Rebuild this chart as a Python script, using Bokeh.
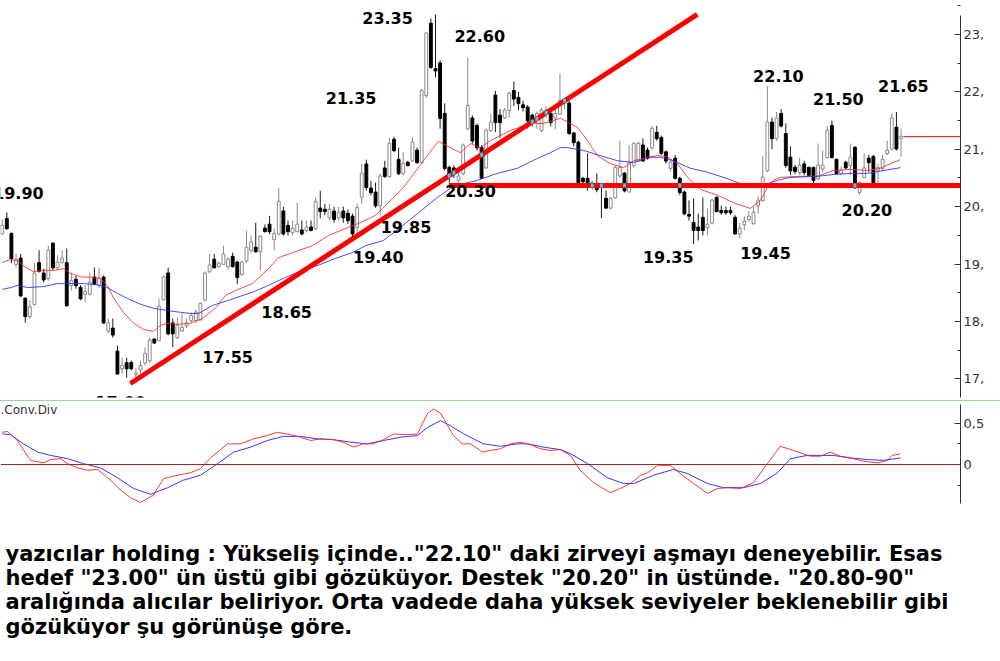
from bokeh.plotting import figure
from bokeh.models import (Range1d, FixedTicker, PrintfTickFormatter, CustomJSTickFormatter,
                          Span, Div, ColumnDataSource)
from bokeh.layouts import column
from bokeh.embed import file_html
from bokeh.resources import INLINE
from bokeh.core.properties import value

# ---- daily candles (TL) ----
opens = [19.53, 19.79, 19.53, 19.00, 19.10, 18.40, 18.09, 18.30, 19.02, 18.84,
         18.75, 19.36, 18.94, 19.03, 19.02, 18.63, 18.73, 18.59, 18.48, 18.48,
         18.77, 18.63, 18.77, 17.84, 17.88, 17.48, 17.18, 17.28, 17.28, 17.08,
         17.16, 17.28, 17.32, 17.69, 17.67, 18.38, 18.84, 17.97, 17.72, 17.84,
         17.93, 18.02, 18.02, 18.03, 18.38, 18.87, 19.08, 18.96, 19.00, 18.96,
         19.13, 19.03, 18.82, 19.06, 19.24, 19.29, 19.22, 19.62, 19.69, 19.43,
         19.53, 19.92, 19.67, 19.55, 19.57, 19.59, 19.59, 19.64, 19.62, 19.97,
         19.95, 19.81, 19.92, 19.81, 19.92, 19.88, 19.83, 19.64, 20.17, 20.74,
         20.32, 20.25, 20.02, 20.67, 20.53, 21.17, 20.82, 20.58, 20.77, 20.80,
         20.98, 20.77, 21.94, 23.19, 22.40, 22.50, 21.62, 20.68, 20.67, 20.46,
         20.58, 21.36, 21.54, 21.41, 21.03, 20.68, 21.33, 21.94, 21.59, 21.55,
         21.68, 22.02, 21.90, 21.77, 21.73, 21.59, 21.54, 21.33, 21.62, 21.62,
         21.55, 21.62, 21.80, 21.80, 21.28, 21.12, 20.49, 20.49, 20.37, 20.40,
         20.38, 20.14, 19.98, 20.16, 20.54, 20.58, 20.26, 20.72, 20.80, 21.07,
         20.98, 21.03, 21.29, 21.20, 20.95, 20.67, 20.84, 20.49, 20.25, 19.86,
         19.72, 19.64, 19.81, 19.64, 19.72, 20.16, 19.93, 19.93, 19.93, 19.81,
         19.53, 19.69, 19.78, 19.71, 20.02, 20.11, 20.63, 21.47, 21.19, 21.62,
         21.27, 20.86, 20.68, 20.60, 20.74, 20.68, 20.68, 20.49, 20.66, 20.86,
         21.41, 20.82, 20.58, 20.77, 20.72, 21.03, 20.25, 20.51, 20.84, 20.87,
         20.64, 20.67, 20.93, 21.01, 21.38, 21.19]
highs = [19.78, 19.90, 19.55, 19.18, 19.18, 18.42, 18.37, 19.02, 19.24, 18.92,
         19.32, 19.38, 19.15, 19.24, 19.27, 18.85, 18.80, 18.63, 18.63, 18.85,
         18.94, 18.94, 18.80, 18.05, 18.05, 17.58, 17.37, 17.37, 17.32, 17.18,
         17.32, 17.55, 17.72, 17.71, 18.40, 18.80, 18.94, 18.05, 18.07, 18.14,
         18.05, 18.16, 18.21, 18.33, 18.87, 19.18, 19.18, 19.05, 19.32, 19.12,
         19.20, 19.06, 19.06, 19.58, 19.50, 19.72, 19.50, 19.69, 19.84, 19.62,
         20.33, 20.00, 19.76, 19.76, 20.07, 19.76, 19.76, 19.76, 20.16, 20.28,
         20.05, 20.05, 20.00, 20.00, 20.00, 19.95, 19.88, 20.05, 20.75, 20.82,
         20.45, 20.42, 20.58, 20.80, 21.20, 21.22, 21.03, 20.95, 20.80, 21.20,
         21.03, 22.05, 23.05, 23.28, 23.35, 22.55, 21.80, 20.72, 20.72, 20.60,
         21.10, 22.60, 21.59, 21.45, 21.07, 21.36, 21.62, 22.02, 21.70, 21.72,
         22.00, 22.18, 22.00, 21.85, 21.77, 21.62, 21.66, 21.72, 21.75, 21.72,
         21.75, 22.32, 21.90, 21.85, 21.30, 21.15, 20.52, 20.93, 20.45, 20.58,
         20.42, 20.28, 20.17, 20.72, 21.15, 20.60, 21.07, 21.12, 21.13, 21.19,
         21.03, 21.41, 21.41, 21.24, 20.98, 20.82, 20.90, 20.52, 20.28, 20.11,
         20.14, 19.88, 20.16, 19.97, 20.14, 20.18, 20.02, 20.00, 20.00, 19.85,
         19.72, 19.83, 19.93, 20.00, 20.18, 20.89, 22.10, 21.55, 21.65, 21.70,
         21.45, 21.05, 20.73, 20.85, 20.80, 20.70, 20.70, 21.10, 20.98, 21.41,
         21.50, 20.84, 20.70, 20.80, 21.10, 21.05, 20.44, 20.93, 20.90, 20.90,
         20.75, 20.90, 21.15, 21.62, 21.65, 21.36]
lows = [19.52, 19.60, 19.02, 18.94, 18.43, 17.98, 18.05, 18.28, 18.85, 18.68,
        18.71, 18.89, 18.89, 19.01, 18.26, 18.54, 18.57, 18.37, 18.33, 18.45,
        18.63, 18.59, 17.96, 17.79, 17.72, 17.08, 17.09, 17.02, 17.15, 17.00,
        17.09, 17.23, 17.28, 17.61, 17.66, 18.37, 17.76, 17.55, 17.70, 17.82,
        17.88, 17.98, 17.97, 18.02, 18.35, 18.85, 18.92, 18.94, 18.99, 18.90,
        18.94, 18.65, 18.80, 19.02, 19.20, 19.20, 18.89, 19.55, 19.52, 19.24,
        19.50, 19.50, 19.50, 19.50, 19.55, 19.50, 19.55, 19.57, 19.59, 19.80,
        19.85, 19.76, 19.72, 19.76, 19.72, 19.70, 19.40, 19.48, 20.05, 20.28,
        20.20, 19.98, 19.85, 20.50, 20.50, 20.95, 20.55, 20.55, 20.70, 20.78,
        20.75, 20.75, 21.90, 22.40, 22.25, 21.36, 20.63, 20.42, 20.50, 20.30,
        20.55, 21.33, 21.10, 20.98, 20.50, 20.66, 21.30, 21.30, 21.20, 21.53,
        21.55, 21.75, 21.68, 21.66, 21.36, 21.40, 21.36, 21.30, 21.55, 21.40,
        21.35, 21.60, 21.70, 21.25, 21.05, 20.40, 20.40, 20.28, 20.30, 20.25,
        19.80, 19.97, 19.95, 20.14, 20.50, 20.25, 20.25, 20.68, 20.78, 20.78,
        20.82, 21.00, 21.15, 20.90, 20.75, 20.62, 20.47, 20.20, 19.85, 19.76,
        19.35, 19.41, 19.50, 19.50, 19.69, 19.90, 19.86, 19.86, 19.86, 19.52,
        19.45, 19.59, 19.74, 19.68, 19.88, 20.09, 20.60, 21.00, 21.15, 21.38,
        20.68, 20.55, 20.57, 20.55, 20.55, 20.53, 20.33, 20.46, 20.60, 20.84,
        20.84, 20.57, 20.56, 20.66, 20.55, 20.33, 20.20, 20.50, 20.60, 20.40,
        20.37, 20.62, 20.90, 20.98, 20.98, 20.87]
closes = [19.67, 19.62, 19.10, 19.08, 18.45, 18.09, 18.25, 18.84, 18.88, 18.73,
          19.24, 18.94, 19.03, 19.10, 18.28, 18.71, 18.63, 18.40, 18.52, 18.68,
          18.66, 18.75, 17.98, 17.97, 17.77, 17.09, 17.23, 17.18, 17.18, 17.10,
          17.23, 17.44, 17.67, 17.63, 18.26, 18.77, 17.79, 17.79, 17.93, 17.89,
          17.97, 18.10, 18.16, 18.31, 18.84, 18.98, 18.94, 19.01, 19.17, 19.08,
          18.96, 18.77, 19.03, 19.29, 19.38, 19.22, 19.48, 19.57, 19.57, 19.53,
          20.09, 19.53, 19.57, 19.62, 19.69, 19.53, 19.64, 19.59, 20.09, 19.92,
          19.92, 19.95, 19.78, 19.90, 19.81, 19.76, 19.53, 19.98, 20.58, 20.34,
          20.25, 20.02, 20.53, 20.53, 21.10, 20.98, 20.58, 20.75, 20.72, 21.12,
          20.77, 22.02, 23.02, 22.43, 22.37, 21.54, 20.67, 20.55, 20.58, 20.53,
          21.07, 21.76, 21.15, 21.03, 20.50, 21.33, 21.47, 21.47, 21.47, 21.68,
          21.97, 21.88, 21.80, 21.73, 21.50, 21.47, 21.62, 21.68, 21.68, 21.47,
          21.62, 21.85, 21.88, 21.28, 21.12, 20.42, 20.44, 20.42, 20.42, 20.30,
          20.35, 19.98, 20.14, 20.68, 20.68, 20.28, 20.77, 21.10, 21.10, 20.80,
          20.85, 21.36, 21.19, 20.93, 20.80, 20.77, 20.50, 20.25, 19.88, 19.84,
          19.59, 19.59, 19.59, 19.69, 20.11, 19.92, 19.90, 19.90, 19.90, 19.53,
          19.62, 19.74, 19.83, 19.90, 20.11, 20.51, 21.47, 21.19, 21.54, 21.41,
          20.72, 20.63, 20.62, 20.72, 20.60, 20.55, 20.46, 20.72, 20.72, 21.33,
          20.86, 20.58, 20.63, 20.68, 20.86, 20.33, 20.42, 20.67, 20.77, 20.42,
          20.68, 20.82, 20.98, 21.54, 21.01, 21.22]

# ---- moving averages (bar index, price) ----
fast_ma_idx = [0, 1.8, 3.3, 5.1, 6.8, 9, 11.1, 13.3, 14.8, 17, 19.2, 21.3, 22.8, 24.1, 26.3,
               28.5, 30.7, 32.8, 34.3, 35.9, 38, 40.8, 43.4, 46.3, 48.4, 50.6, 54.3, 57.8,
               59.9, 63, 67.3, 70.8, 74.5, 77.3, 79.5, 81, 87, 91.4, 94.6, 97.2, 99.4, 101.6,
               103.8, 105.9, 110.3, 114.6, 117.4, 121.1, 122.8, 124.8, 127, 129.1, 131.9,
               134.8, 137, 140, 142.2, 144.3, 146.5, 148.7, 151.5, 155.2, 158.6, 162.3, 164.5,
               166, 167.3, 168.8, 173.2, 176.9, 180.3, 184, 187.7, 190.5, 192.7, 194.9]
fast_ma = [19.03, 19.08, 19.06, 18.94, 18.87, 18.89, 18.89, 18.92, 18.84, 18.78, 18.77, 18.75,
           18.63, 18.42, 18.16, 17.97, 17.86, 17.83, 17.93, 17.97, 17.95, 17.97, 18.05, 18.24,
           18.45, 18.54, 18.66, 18.92, 19.11, 19.20, 19.32, 19.50, 19.62, 19.71, 19.79, 19.85,
           20.33, 20.80, 21.14, 21.03, 20.94, 21.10, 21.03, 21.15, 21.33, 21.45, 21.45, 21.54,
           21.47, 21.38, 21.15, 20.89, 20.75, 20.68, 20.80, 20.86, 20.89, 20.87, 20.75, 20.51,
           20.30, 20.20, 20.07, 19.97, 20.11, 20.33, 20.46, 20.51, 20.53, 20.53, 20.63, 20.65,
           20.63, 20.67, 20.75, 20.82]
slow_ma_idx = [0, 1.8, 3.3, 5.5, 9, 12, 14.8, 17.6, 20.7, 22.8, 25, 27.2, 30, 32.8, 35.9, 38.7,
               40.8, 42.6, 45.6, 49.1, 54.3, 57.8, 61.5, 65.1, 68.6, 72.3, 76, 78.8, 82.7, 86.4,
               90.1, 94.4, 97.2, 100.1, 103.1, 107.4, 111.8, 116.1, 118.9, 121.1, 122.6, 126.1,
               129.8, 133.5, 137, 140.6, 142.8, 145.6, 149.3, 153, 157.3, 160.2, 162.3, 165.1,
               168.2, 171, 176.9, 180.3, 184, 187.7, 191.2, 194.9]
slow_ma = [18.56, 18.59, 18.63, 18.59, 18.61, 18.66, 18.66, 18.66, 18.64, 18.59, 18.49, 18.40,
           18.30, 18.23, 18.19, 18.16, 18.14, 18.14, 18.28, 18.37, 18.51, 18.63, 18.77, 18.89,
           18.98, 19.10, 19.20, 19.32, 19.41, 19.64, 19.88, 20.16, 20.32, 20.40, 20.46, 20.58,
           20.67, 20.84, 20.94, 21.03, 21.03, 20.98, 20.89, 20.80, 20.77, 20.86, 20.86, 20.80,
           20.67, 20.60, 20.49, 20.40, 20.35, 20.37, 20.46, 20.51, 20.53, 20.56, 20.58, 20.58,
           20.63, 20.68]

# ---- MACD and signal (bar index, value) ----
macd_idx = [0, 1.15, 3.3, 6.1, 9, 10.5, 12.7, 14.2, 16.3, 18.5, 20.7, 23.5, 25.7, 27.8, 30,
            32.8, 35, 38, 40.8, 43, 45.2, 48.9, 51.7, 54.5, 57.5, 59.7, 62.5, 64.7, 66.9, 69,
            71.9, 74, 76.2, 78.4, 80.5, 82.7, 84.9, 87.9, 90.1, 92.3, 93.6, 95.1, 97.9, 99.8,
            101.6, 104.2, 105.9, 108.1, 110.3, 112.4, 114.6, 116.8, 118.9, 121.1, 123.3, 125.4,
            128.3, 131.9, 134.1, 136.3, 138.5, 140, 142.2, 145, 147.1, 150, 153, 155.2, 157.3,
            160.2, 163, 166, 168.8, 171.7, 175.3, 177.5, 179.7, 181.8, 184.7, 186.8, 189.9, 192,
            193.1, 194.9]
macd = [0.39, 0.40, 0.29, 0.05, 0.02, 0.06, 0.07, 0.01, -0.04, -0.07, -0.06, -0.19, -0.31,
        -0.40, -0.46, -0.37, -0.17, -0.13, -0.10, -0.05, 0.08, 0.25, 0.25, 0.31, 0.35, 0.39,
        0.36, 0.33, 0.29, 0.31, 0.30, 0.27, 0.21, 0.25, 0.25, 0.30, 0.37, 0.36, 0.37, 0.62,
        0.67, 0.62, 0.35, 0.25, 0.25, 0.15, 0.17, 0.19, 0.25, 0.27, 0.24, 0.19, 0.17, 0.18,
        0.11, -0.07, -0.22, -0.34, -0.29, -0.23, -0.13, -0.10, -0.01, -0.01, -0.11, -0.23,
        -0.35, -0.29, -0.28, -0.29, -0.22, 0.01, 0.22, 0.17, 0.10, 0.10, 0.15, 0.10, 0.07,
        0.04, 0.02, 0.05, 0.11, 0.13]
signal_idx = [0, 1.8, 4.6, 7.7, 10.5, 14.2, 17.6, 21.3, 25, 28.5, 32.2, 35.9, 39.3, 43, 46.7,
              50.2, 53.9, 57.5, 61, 64.7, 68.4, 71.9, 75.6, 79.2, 82.7, 86.4, 90.1, 92.3, 95.1,
              97.2, 100.1, 104.4, 108.1, 111.8, 114, 117.4, 121.1, 123.3, 127, 131.3, 134.8,
              137, 141.3, 145.6, 148.7, 153, 156.5, 160.8, 164.5, 168.2, 171, 174.7, 180.3,
              184, 187.7, 191.2, 194.9]
signal = [0.37, 0.36, 0.25, 0.15, 0.11, 0.07, 0.01, -0.04, -0.16, -0.29, -0.36, -0.28, -0.19,
          -0.13, 0.01, 0.15, 0.21, 0.29, 0.34, 0.34, 0.31, 0.30, 0.27, 0.25, 0.29, 0.33, 0.35,
          0.45, 0.53, 0.47, 0.37, 0.25, 0.22, 0.25, 0.25, 0.21, 0.18, 0.13, 0.01, -0.16, -0.23,
          -0.23, -0.13, -0.06, -0.11, -0.23, -0.28, -0.28, -0.23, -0.10, 0.07, 0.11, 0.11,
          0.08, 0.06, 0.05, 0.08]

# ---- drawn trend / support lines ----
trend_idx = [27.8, 150.8]
trend_price = [16.92, 23.35]
support_price = 20.37
support_start_idx = 96.9

# price notes on the chart
note_text = ["19.90", "17.55", "23.35", "22.60", "21.35", "20.30", "19.85", "19.40",
             "18.65", "19.35", "19.45", "22.10", "21.50", "21.65", "20.20", "17.00"]
note_at_idx = [3.5, 48.9, 83.6, 103.6, 75.7, 101.6, 87.6, 81.6,
               61.7, 144.5, 165.6, 168.4, 181.4, 195.5, 187.6, 25.7]
note_at_price = [20.23, 17.39, 23.28, 22.97, 21.885, 20.28, 19.64, 19.115,
                 18.17, 19.13, 19.20, 22.27, 21.87, 22.11, 19.95, 16.59]

# bars where the trend lines cross a body
cross_on_trend = [97, 98, 104, 115, 116, 118, 122]
cross_on_support = [128, 130, 135, 147, 185]

price_ticks = [17, 18, 19, 20, 21, 22, 23]
price_minor = [16.5, 17.5, 18.5, 19.5, 20.5, 21.5, 22.5, 23.5]
macd_ticks = [0, 0.5]
macd_minor = [-0.25, 0.25]

comment_lines = [
    'yazıcılar holding : Yükseliş içinde.."22.10" daki zirveyi aşmayı deneyebilir. Esas',
    'hedef "23.00" ün üstü gibi gözüküyor. Destek "20.20" in üstünde. "20.80-90"',
    'aralığında alıcılar beliriyor. Orta vadede daha yüksek seviyeler beklenebilir gibi',
    'gözüküyor şu görünüşe göre.',
]

# ------------------------------------------------------------------
X_LO, X_HI = -0.37, 207.9
xr = Range1d(X_LO, X_HI)
AXIS_COL = "#333333"
LABEL_FONT = "DejaVu Sans"


def style_axis(ax):
    ax.axis_line_color = AXIS_COL
    ax.major_tick_line_color = AXIS_COL
    ax.minor_tick_line_color = AXIS_COL
    ax.major_tick_in = 6
    ax.major_tick_out = 0
    ax.minor_tick_in = 3
    ax.minor_tick_out = 0
    ax.major_label_standoff = 3
    ax.major_label_text_font = LABEL_FONT
    ax.major_label_text_font_size = "13px"
    ax.major_label_text_color = AXIS_COL


# ---- price panel ----
pa = figure(width=1000, height=400, x_range=xr, y_range=Range1d(16.676, 23.592),
            output_backend="svg", toolbar_location=None,
            x_axis_location=None, y_axis_location="right",
            min_border_left=0, min_border_top=0, min_border_bottom=3, min_border_right=40)
pa.outline_line_color = None
pa.grid.visible = False
pa.background_fill_color = "white"
ya = pa.yaxis[0]
ya.ticker = FixedTicker(ticks=price_ticks, minor_ticks=price_minor)
ya.formatter = PrintfTickFormatter(format="%d,")
ya.bounds = (16.5, 23.33)
style_axis(ya)

n = len(opens)


def candle_source(sel):
    return ColumnDataSource(dict(
        x=sel,
        hi=[highs[i] for i in sel],
        lo=[lows[i] for i in sel],
        top=[max(opens[i], closes[i]) + 0.005 for i in sel],
        bot=[min(opens[i], closes[i]) - 0.005 for i in sel],
    ))


rising = [i for i in range(n) if closes[i] >= opens[i]]
falling = [i for i in range(n) if closes[i] < opens[i]]
src_up = candle_source(rising)
src_dn = candle_source(falling)

pa.segment(x0="x", y0="lo", x1="x", y1="hi", source=src_up, line_color="#8a8a8a", line_width=1)
pa.segment(x0="x", y0="lo", x1="x", y1="hi", source=src_dn, line_color="#1a1a1a", line_width=1)
pa.vbar(x="x", width=0.62, top="top", bottom="bot", source=src_up,
        fill_color="white", line_color="#8a8a8a", line_width=1)
pa.vbar(x="x", width=0.62, top="top", bottom="bot", source=src_dn,
        fill_color="black", line_color="black", line_width=1)

# moving averages
pa.line(fast_ma_idx, fast_ma, line_color="#ff2a2a", line_width=1, line_alpha=0.85)
pa.line(slow_ma_idx, slow_ma, line_color="#2a2aff", line_width=1, line_alpha=0.85)

# rising trend line and horizontal support
pa.line(trend_idx, trend_price, line_color="#ff0000", line_width=5)
pa.line([support_start_idx, X_HI], [support_price, support_price], line_color="#ff0000", line_width=5)

slope = (trend_price[1] - trend_price[0]) / (trend_idx[1] - trend_idx[0])
cross_x = cross_on_trend + cross_on_support
cross_y = [trend_price[0] + slope * (i - trend_idx[0]) for i in cross_on_trend] + \
          [support_price] * len(cross_on_support)
pa.rect(x=cross_x, y=cross_y, width=0.62, height=0.07, fill_color="#00e8ff", line_color=None)

# last price marker
pa.line([n - 1 + 0.5, X_HI], [closes[-1], closes[-1]], line_color="#ff0000", line_width=1)

pa.text(x=note_at_idx, y=note_at_price, text=note_text, text_font=value(LABEL_FONT),
        text_font_style="bold", text_font_size="16px", text_align="center",
        text_baseline="middle", text_color="black")

sep = Div(text="", width=1000, height=1, margin=(0, 0, 0, 0),
          styles={"background-color": "#93d993"})

# ---- MACD panel ----
pb = figure(width=1000, height=120, x_range=xr, y_range=Range1d(-0.4716, 0.7255),
            output_backend="svg", toolbar_location=None,
            x_axis_location=None, y_axis_location="right",
            min_border_left=0, min_border_top=3, min_border_bottom=18, min_border_right=40)
pb.outline_line_color = None
pb.grid.visible = False
yb = pb.yaxis[0]
yb.ticker = FixedTicker(ticks=macd_ticks, minor_ticks=macd_minor)
yb.formatter = CustomJSTickFormatter(code="return String(tick).replace('.', ',');")
style_axis(yb)

pb.add_layout(Span(location=0, dimension="width", line_color="#a52222", line_width=1))
pb.line(signal_idx, signal, line_color="#2020ff", line_width=1, line_alpha=0.9)
pb.line(macd_idx, macd, line_color="#ff2020", line_width=1, line_alpha=0.9)
pb.text(x=[X_LO], y=[0.655], text=[".Conv.Div"], text_font=value(LABEL_FONT),
        text_font_size="12px", text_align="left", text_baseline="middle", text_color="#333333")

# ---- commentary (frame lines up with the chart frames above, 960 px wide) ----
pc = figure(width=1000, height=140, x_range=Range1d(0, 960), y_range=Range1d(0, 140),
            output_backend="svg", toolbar_location=None,
            x_axis_location=None, y_axis_location=None,
            min_border_left=0, min_border_top=0, min_border_bottom=0, min_border_right=0)
pc.outline_line_color = None
pc.grid.visible = False
line_y = [108, 84, 60, 35]
pc.text(x=[5] * len(comment_lines), y=line_y, text=comment_lines, text_font=value(LABEL_FONT),
        text_font_style="bold", text_font_size="21px", text_align="left",
        text_baseline="middle", text_color="black")

page = column(pa, sep, pb, pc, spacing=0)
open("out.html", "w").write(file_html(page, INLINE))
